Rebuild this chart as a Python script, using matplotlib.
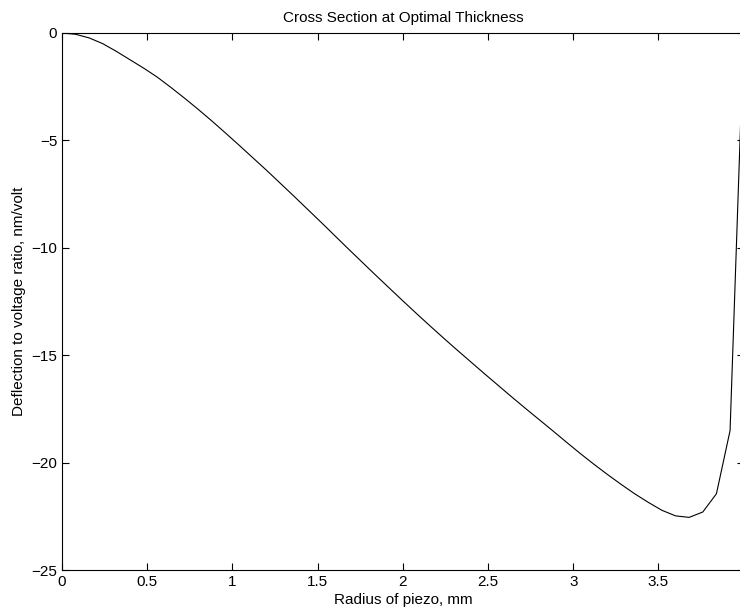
import matplotlib.pyplot as plt

# radius of piezo (mm) and deflection / voltage (nm/volt)
radius = [0.00, 0.08, 0.16, 0.24, 0.32, 0.40, 0.48, 0.56, 0.64, 0.72,
          0.80, 0.88, 0.96, 1.04, 1.12, 1.20, 1.28, 1.36, 1.44, 1.52,
          1.60, 1.68, 1.76, 1.84, 1.92, 2.00, 2.08, 2.16, 2.24, 2.32,
          2.40, 2.48, 2.56, 2.64, 2.72, 2.80, 2.88, 2.96, 3.04, 3.12,
          3.20, 3.28, 3.36, 3.44, 3.52, 3.60, 3.68, 3.76, 3.84, 3.92,
          4.00]
deflection = [0.00, -0.06, -0.23, -0.50, -0.86, -1.25, -1.64, -2.06, -2.54, -3.04,
              -3.56, -4.10, -4.66, -5.23, -5.81, -6.39, -6.99, -7.59, -8.20, -8.81,
              -9.43, -10.05, -10.66, -11.27, -11.87, -12.47, -13.06, -13.64, -14.21, -14.77,
              -15.32, -15.87, -16.41, -16.95, -17.48, -18.00, -18.52, -19.05, -19.57, -20.07,
              -20.55, -21.01, -21.45, -21.85, -22.22, -22.48, -22.55, -22.30, -21.45, -18.51,
              0.00]

x_ticks = [0, 0.5, 1, 1.5, 2, 2.5, 3, 3.5, 4]
x_tick_labels = ['0', '0.5', '1', '1.5', '2', '2.5', '3', '3.5', '4']
y_ticks = [0, -5, -10, -15, -20, -25]

plt.rcParams['font.family'] = ['Liberation Sans', 'DejaVu Sans']
plt.rcParams['font.size'] = 11

fig = plt.figure(figsize=(7.4, 6.12), dpi=100)
# the right edge of the box sits just past the figure edge, as in the reference
ax = fig.add_axes([62 / 740, 42 / 612, (743.7 - 62) / 740, (570 - 33) / 612])

ax.plot(radius, deflection, color='black', linewidth=0.8)

ax.set_xlim(0, 4)
ax.set_ylim(-25, 0)
ax.set_xticks(x_ticks)
ax.set_xticklabels(x_tick_labels)
ax.set_yticks(y_ticks)
ax.tick_params(direction='in', length=4.8, width=0.8, top=True, right=True,
               labelsize=11, colors='black')
for s in ax.spines.values():
    s.set_linewidth(0.8)

ax.set_title('Cross Section at Optimal Thickness', fontsize=11, pad=8)
ax.set_xlabel('Radius of piezo, mm', fontsize=11, labelpad=3)
ax.set_ylabel('Deflection to voltage ratio, nm/volt', fontsize=11)

plt.savefig('out.png', dpi=100)
